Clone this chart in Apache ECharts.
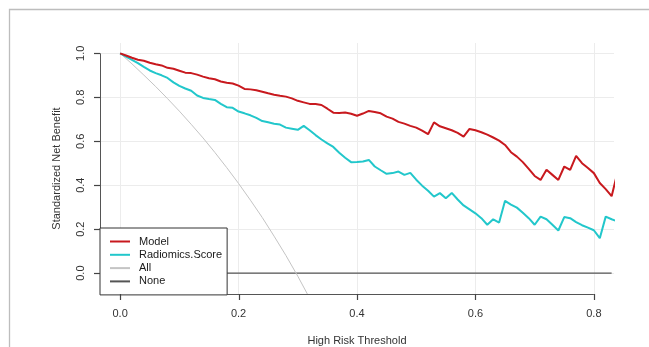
<!DOCTYPE html>
<html>
<head>
<meta charset="utf-8">
<script src="https://cdn.jsdelivr.net/npm/echarts@6/dist/echarts.min.js"></script>
<style>
  html, body { margin: 0; padding: 0; background: #ffffff; }
  #chart { width: 649px; height: 347px; }
</style>
</head>
<body>
<div id="chart"></div>
<script>
// ---- data ----
const thresholds = [0.00,0.01,0.02,0.03,0.04,0.05,0.06,0.07,0.08,0.09,
  0.10,0.11,0.12,0.13,0.14,0.15,0.16,0.17,0.18,0.19,
  0.20,0.21,0.22,0.23,0.24,0.25,0.26,0.27,0.28,0.29,
  0.30,0.31,0.32,0.33,0.34,0.35,0.36,0.37,0.38,0.39,
  0.40,0.41,0.42,0.43,0.44,0.45,0.46,0.47,0.48,0.49,
  0.50,0.51,0.52,0.53,0.54,0.55,0.56,0.57,0.58,0.59,
  0.60,0.61,0.62,0.63,0.64,0.65,0.66,0.67,0.68,0.69,
  0.70,0.71,0.72,0.73,0.74,0.75,0.76,0.77,0.78,0.79,
  0.80,0.81,0.82,0.83,0.84];

const modelNB = [1.000,0.990,0.980,0.971,0.966,0.957,0.950,0.945,0.934,0.930,
  0.921,0.912,0.910,0.903,0.894,0.887,0.882,0.872,0.866,0.863,
  0.853,0.838,0.836,0.832,0.825,0.818,0.812,0.807,0.803,0.795,
  0.784,0.777,0.770,0.769,0.765,0.748,0.730,0.728,0.731,0.725,
  0.716,0.726,0.738,0.733,0.727,0.712,0.703,0.688,0.680,0.670,
  0.662,0.648,0.632,0.686,0.668,0.659,0.650,0.638,0.621,0.656,
  0.650,0.641,0.630,0.617,0.603,0.583,0.550,0.530,0.505,0.474,
  0.442,0.424,0.470,0.447,0.424,0.485,0.470,0.533,0.500,0.478,
  0.455,0.410,0.382,0.350,0.460];

const radiomicsNB = [1.000,0.985,0.970,0.955,0.938,0.922,0.910,0.900,0.888,0.868,
  0.852,0.840,0.830,0.808,0.797,0.792,0.788,0.770,0.755,0.752,
  0.735,0.727,0.718,0.706,0.692,0.686,0.680,0.676,0.662,0.657,
  0.652,0.670,0.650,0.628,0.608,0.590,0.574,0.548,0.525,0.505,
  0.506,0.508,0.515,0.485,0.468,0.452,0.455,0.462,0.447,0.456,
  0.425,0.398,0.375,0.348,0.364,0.341,0.365,0.335,0.308,0.290,
  0.272,0.250,0.220,0.245,0.230,0.329,0.312,0.298,0.275,0.250,
  0.220,0.257,0.245,0.220,0.194,0.255,0.250,0.232,0.218,0.207,
  0.195,0.159,0.257,0.245,0.235];

const allX  = [0.00,0.02,0.04,0.06,0.08,0.10,0.12,0.14,0.16,0.18,0.20,0.22,0.24,0.26,0.28,0.30,0.32,0.34];
const allNB = [1.000,0.952,0.901,0.849,0.794,0.737,0.677,0.615,0.549,0.480,0.408,0.332,0.253,0.168,0.080,-0.014,-0.114,-0.220];

const noneX  = [0.00,0.83];
const noneNB = [0,0];

const xTicks = [0,0.2,0.4,0.6,0.8];
const yTicks = [0,0.2,0.4,0.6,0.8,1.0];
const seriesNames = ['Model','Radiomics.Score','All','None'];

// ---- chart ----
const xMin = -0.034, xMax = 0.834;
const yMin = -0.095, yMax = 1.047;
const pairs = (xs, ys) => xs.map((x, i) => [x, ys[i]]);
const fmt = v => v.toFixed(1);
const FONT = 'Liberation Sans, Arial, sans-serif';
const AXIS_COLOR = '#555555';
const TICK_LEN = 6;

const chart = echarts.init(document.getElementById('chart'), null, {renderer: 'canvas'});
chart.setOption({
  animation: false,
  backgroundColor: '#ffffff',
  grid: {left: 100, right: 35, top: 43, bottom: 53, containLabel: false, outerBoundsMode: 'none'},
  xAxis: {
    type: 'value', min: xMin, max: xMax,
    name: 'High Risk Threshold', nameLocation: 'middle', nameGap: 41,
    nameTextStyle: {fontFamily: FONT, fontSize: 11, color: '#333'},
    axisLine: {show: false, onZero: false},
    axisTick: {show: false, customValues: xTicks},
    axisLabel: {customValues: xTicks, formatter: fmt, margin: 14, fontFamily: FONT, fontSize: 11, color: '#333'},
    splitLine: {show: true, lineStyle: {color: '#ececec', width: 1}}
  },
  yAxis: {
    type: 'value', min: yMin, max: yMax,
    name: 'Standardized Net Benefit', nameLocation: 'middle', nameGap: 38,
    nameTextStyle: {fontFamily: FONT, fontSize: 11, color: '#333'},
    axisLine: {show: false, onZero: false},
    axisTick: {show: false, customValues: yTicks},
    axisLabel: {customValues: yTicks, formatter: fmt, rotate: 90, margin: 14, fontFamily: FONT, fontSize: 11, color: '#333'},
    splitLine: {show: true, lineStyle: {color: '#ececec', width: 1}}
  },
  legend: {
    data: seriesNames,
    orient: 'vertical', left: 100, top: 228, z: 10,
    backgroundColor: '#ffffff', borderColor: '#333333', borderWidth: 1, borderRadius: 0,
    padding: [7, 5, 7, 10],
    icon: 'rect', itemWidth: 20, itemHeight: 2, itemGap: 0.3,
    textStyle: {fontFamily: FONT, fontSize: 11, color: '#1a1a1a', padding: [0, 0, 0, 4], lineHeight: 13}
  },
  series: [
    {
      name: 'None', type: 'line', data: pairs(noneX, noneNB), symbol: 'none', clip: false, z: 1,
      lineStyle: {color: '#555555', width: 1.3}, itemStyle: {color: '#555555'},
      markLine: {
        silent: true, symbol: 'none', animation: false,
        label: {show: false}, emphasis: {disabled: true},
        lineStyle: {color: AXIS_COLOR, width: 1, type: 'solid'},
        data: [
          [{coord: [xMin, yMin]}, {coord: [xMin, yTicks[yTicks.length - 1]]}],
          [{coord: [xMin, yMin]}, {coord: [xTicks[xTicks.length - 1], yMin]}]
        ]
      }
    },
    {
      name: 'All', type: 'line', data: pairs(allX, allNB), symbol: 'none', clip: true, z: 2,
      lineStyle: {color: '#c4c4c4', width: 1}, itemStyle: {color: '#c4c4c4'}
    },
    {
      name: 'Radiomics.Score', type: 'line', data: pairs(thresholds, radiomicsNB), symbol: 'none', clip: true, z: 3,
      lineStyle: {color: '#22c7cb', width: 2}, itemStyle: {color: '#22c7cb'}
    },
    {
      name: 'Model', type: 'line', data: pairs(thresholds, modelNB), symbol: 'none', clip: true, z: 4,
      lineStyle: {color: '#c8191e', width: 2}, itemStyle: {color: '#c8191e'}
    }
  ]
});

// Axis ticks placed through the library's own scale conversion, plus the outer frame.
const tickLines = [];
xTicks.forEach(t => {
  const p = chart.convertToPixel({xAxisIndex: 0, yAxisIndex: 0}, [t, yMin]);
  const x = Math.round(p[0]) + 0.5;
  tickLines.push({type: 'line', silent: true, z: 100,
    shape: {x1: x, y1: p[1], x2: x, y2: p[1] + TICK_LEN},
    style: {stroke: '#444444', lineWidth: 1.2}});
});
yTicks.forEach(t => {
  const p = chart.convertToPixel({xAxisIndex: 0, yAxisIndex: 0}, [xMin, t]);
  const y = Math.round(p[1]) + 0.5;
  tickLines.push({type: 'line', silent: true, z: 100,
    shape: {x1: p[0], y1: y, x2: p[0] - TICK_LEN, y2: y},
    style: {stroke: '#444444', lineWidth: 1.2}});
});
chart.setOption({
  graphic: {
    elements: [{
      type: 'rect', z: -10, silent: true,
      shape: {x: 9.5, y: 9.5, width: 700, height: 400},
      style: {fill: 'none', stroke: '#bdbdbd', lineWidth: 1.3}
    }].concat(tickLines)
  }
});
</script>
</body>
</html>
